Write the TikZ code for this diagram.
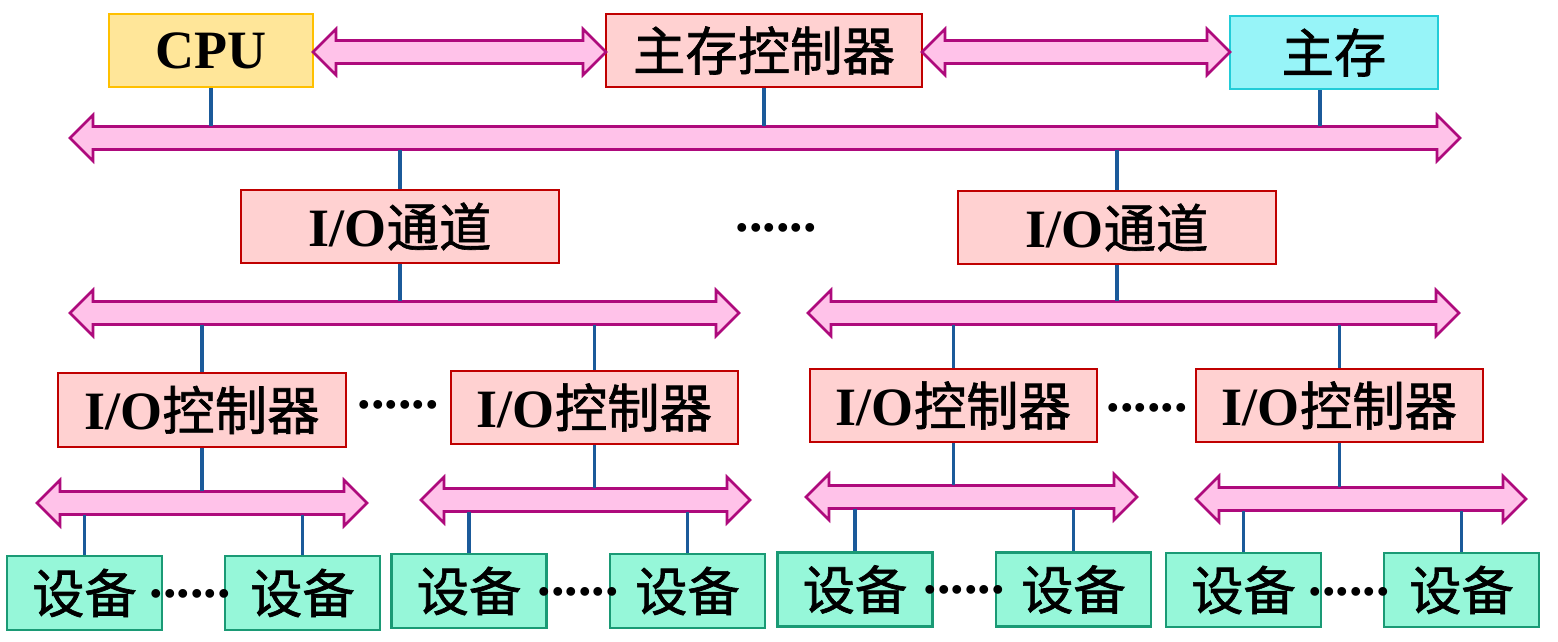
\documentclass[tikz,border=0pt]{standalone}
\usepackage{fontspec}
\setmainfont{Liberation Serif}
\newfontfamily\cjk{Noto Sans CJK SC}[Scale=0.97, FakeBold=1.2]
\definecolor{cpufill}{HTML}{FFE699}
\definecolor{cpudraw}{HTML}{FFC000}
\definecolor{pinkfill}{HTML}{FFD1D1}
\definecolor{reddraw}{HTML}{C00000}
\definecolor{memfill}{HTML}{97F4F8}
\definecolor{memdraw}{HTML}{22CCD8}
\definecolor{devfill}{HTML}{96F7D9}
\definecolor{devdraw}{HTML}{1A9A75}
\definecolor{busfill}{HTML}{FFC2E9}
\definecolor{busdraw}{HTML}{AE0A7C}
\definecolor{linkblue}{HTML}{1B5A9A}
\tikzset{
  box/.style={draw, line width=2.5pt, inner sep=0pt, minimum height=73pt,
    font=\fontsize{54}{60}\selectfont\bfseries},
  cpubox/.style={box, draw=cpudraw, fill=cpufill},
  redbox/.style={box, draw=reddraw, fill=pinkfill},
  membox/.style={box, draw=memdraw, fill=memfill},
  devbox/.style={box, draw=devdraw, fill=devfill, minimum width=155pt, minimum height=74pt},
  busstyle/.style={draw=busdraw, fill=busfill, line width=2.6pt, line join=miter},
  shaft/.style={inner sep=0pt, minimum height=23pt},
  vline/.style={draw=linkblue, line width=3.5pt},
  dots/.style={inner sep=0pt, font=\fontsize{54}{60}\selectfont\bfseries}
}
% name, left tip x, right tip x, centre y (px, y downwards)
\newcommand\busarrow[4]{%
  \draw[busstyle] (#2,#4) -- (#2+23,#4-23) -- (#2+23,#4-11.5) -- (#3-23,#4-11.5)
    -- (#3-23,#4-23) -- (#3,#4) -- (#3-23,#4+23) -- (#3-23,#4+11.5)
    -- (#2+23,#4+11.5) -- (#2+23,#4+23) -- cycle;
  \node[shaft, minimum width={#3-#2-46}] (#1) at ({(#2+#3)/2},#4) {};%
}
\newcommand\zh[1]{{\cjk\mdseries #1}}
\begin{document}
\begin{tikzpicture}[x=1pt,y=-1pt]
\useasboundingbox[fill=white] (0,0) rectangle (1558,641);

% top row
\node[cpubox, minimum width=204pt] (cpu) at (211,50.5) {CPU};
\node[redbox, minimum width=316pt] (mc) at (764,50.5) {\zh{主存控制器}};
\node[membox, minimum width=208pt] (mem) at (1334,52.5) {\zh{主存}};

\busarrow{a1}{313}{606}{52}
\busarrow{a2}{922}{1230}{52}

% system bus
\busarrow{b0}{70}{1460}{138}
\coordinate (memL) at ([xshift=-14pt]mem.south);
\draw[vline] (cpu.south) -- (cpu.south |- b0.north);
\draw[vline] (mc.south) -- (mc.south |- b0.north);
\draw[vline] (memL) -- (memL |- b0.north);

% channels
\node[redbox, minimum width=318pt] (ch1) at (400,226.5) {I/O\zh{通道}};
\node[redbox, minimum width=318pt] (ch2) at (1117,227.5) {I/O\zh{通道}};
\node[dots] (dch) at (776,228) {......};
\draw[vline] (ch1.north |- b0.south) -- (ch1.north);
\draw[vline] (ch2.north |- b0.south) -- (ch2.north);

% channel buses
\busarrow{b1}{70}{739}{313}
\busarrow{b2}{808}{1459}{313}
\draw[vline] (ch1.south) -- (ch1.south |- b1.north);
\draw[vline] (ch2.south) -- (ch2.south |- b2.north);

% controllers
\node[redbox, minimum width=288pt, minimum height=74pt] (ctl1) at (202,410) {I/O\zh{控制器}};
\node[redbox, minimum width=287pt] (ctl2) at (594.5,407.5) {I/O\zh{控制器}};
\node[redbox, minimum width=287pt] (ctl3) at (953.5,405.5) {I/O\zh{控制器}};
\node[redbox, minimum width=287pt] (ctl4) at (1339.5,405.5) {I/O\zh{控制器}};
\node[dots] (dc1) at (398,405) {......};
\node[dots] (dc2) at (1147,408) {......};
\draw[vline] (ctl1.north |- b1.south) -- (ctl1.north);
\draw[vline] (ctl2.north |- b1.south) -- (ctl2.north);
\draw[vline] (ctl3.north |- b2.south) -- (ctl3.north);
\draw[vline] (ctl4.north |- b2.south) -- (ctl4.north);

% device buses
\busarrow{d1}{37}{367}{503}
\busarrow{d2}{421}{750}{500}
\busarrow{d3}{806}{1137}{497}
\busarrow{d4}{1196}{1526}{499}
\draw[vline] (ctl1.south) -- (ctl1.south |- d1.north);
\draw[vline] (ctl2.south) -- (ctl2.south |- d2.north);
\draw[vline] (ctl3.south) -- (ctl3.south |- d3.north);
\draw[vline] (ctl4.south) -- (ctl4.south |- d4.north);

% devices
\node[devbox] (v1) at (84.5,593) {\zh{设备}};
\node[devbox] (v2) at (302.5,593) {\zh{设备}};
\node[devbox] (v3) at (469,591) {\zh{设备}};
\node[devbox] (v4) at (687.5,591) {\zh{设备}};
\node[devbox] (v5) at (855,589.5) {\zh{设备}};
\node[devbox] (v6) at (1073.5,589.5) {\zh{设备}};
\node[devbox] (v7) at (1243.5,590) {\zh{设备}};
\node[devbox] (v8) at (1461.5,590) {\zh{设备}};
\foreach \l/\r/\b in {v1/v2/d1,v3/v4/d2,v5/v6/d3,v7/v8/d4}{
  \draw[vline] (\l.north |- \b.south) -- (\l.north);
  \draw[vline] (\r.north |- \b.south) -- (\r.north);
}
\node[dots] (dv1) at (190,594) {......};
\node[dots] (dv2) at (578,592) {......};
\node[dots] (dv3) at (964,590) {......};
\node[dots] (dv4) at (1349,592) {......};
\end{tikzpicture}
\end{document}
